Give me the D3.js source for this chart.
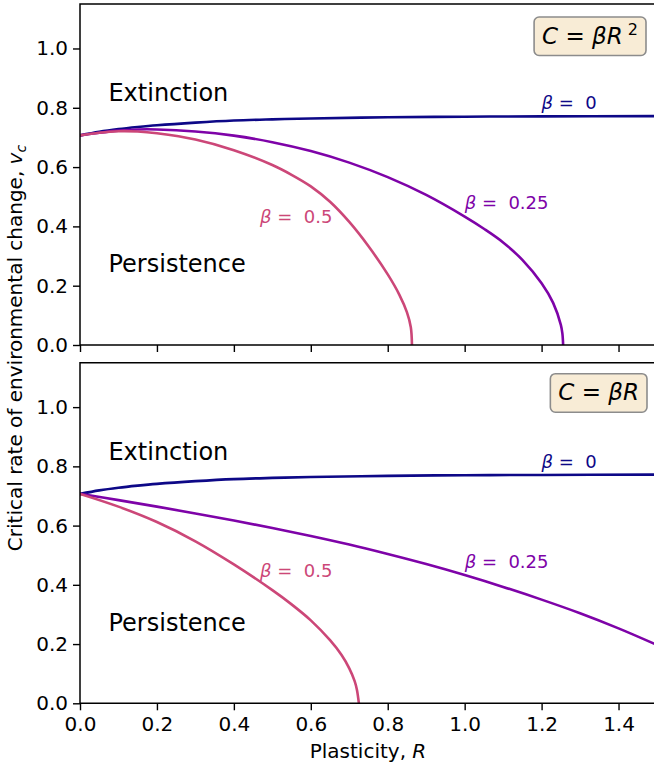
<!DOCTYPE html>
<html>
<head>
<meta charset="utf-8">
<script src="https://cdn.jsdelivr.net/npm/d3@7"></script>
<style>
  body { margin: 0; background: #fff; }
  svg { display: block; font-family: "DejaVu Sans", sans-serif; }
</style>
</head>
<body>
<div id="chart"></div>
<script>
// values
const R_BETA0 = [0, 0.05, 0.1, 0.15, 0.2, 0.3, 0.4, 0.5, 0.6, 0.8, 1.0, 1.2, 1.5];
const V_BETA0 = [0.707, 0.719, 0.728, 0.735, 0.741, 0.750, 0.757, 0.761, 0.764, 0.768, 0.770, 0.771, 0.772];

// C = beta R^2
const R_QUAD_025 = [0, 0.05, 0.1, 0.15, 0.2, 0.3, 0.4, 0.5, 0.6, 0.7, 0.8, 0.9, 1.0, 1.05, 1.1, 1.15, 1.2, 1.23, 1.25, 1.254, 1.256];
const V_QUAD_025 = [0.707, 0.716, 0.723, 0.727, 0.727, 0.720, 0.706, 0.684, 0.654, 0.615, 0.566, 0.506, 0.433, 0.392, 0.346, 0.287, 0.208, 0.142, 0.068, 0.039, 0];
const R_QUAD_05 = [0, 0.05, 0.1, 0.15, 0.2, 0.3, 0.4, 0.5, 0.55, 0.6, 0.65, 0.7, 0.75, 0.8, 0.83, 0.85, 0.86, 0.863];
const V_QUAD_05 = [0.707, 0.716, 0.721, 0.720, 0.714, 0.693, 0.657, 0.607, 0.574, 0.535, 0.483, 0.415, 0.333, 0.238, 0.17, 0.11, 0.06, 0];

// C = beta R
const R_LIN_025 = [0, 0.1, 0.2, 0.3, 0.4, 0.5, 0.6, 0.7, 0.8, 0.9, 1.0, 1.1, 1.2, 1.3, 1.4, 1.5];
const V_LIN_025 = [0.707, 0.686, 0.664, 0.641, 0.617, 0.592, 0.565, 0.536, 0.504, 0.470, 0.433, 0.393, 0.350, 0.304, 0.253, 0.197];
const R_LIN_05 = [0, 0.1, 0.2, 0.3, 0.4, 0.5, 0.55, 0.6, 0.65, 0.68, 0.7, 0.714, 0.72, 0.725];
const V_LIN_05 = [0.707, 0.664, 0.612, 0.547, 0.469, 0.382, 0.334, 0.28, 0.213, 0.163, 0.118, 0.075, 0.045, 0];

const BETAS = ['0', '0.25', '0.5'];
const X_TICKS = [0, 0.2, 0.4, 0.6, 0.8, 1.0, 1.2, 1.4];
const Y_TICKS = [0, 0.2, 0.4, 0.6, 0.8, 1.0];

const COLORS = ['#0d0887', '#7e03a8', '#cc4778'];

const W = 654, H = 768;
const svg = d3.select('#chart').append('svg').attr('width', W).attr('height', H);

const x = d3.scaleLinear().domain([0, 1.5]).range([80, 657]);

const panels = [
  {
    top: 4, bottom: 345, costLabel: 'sq',
    series: [[R_BETA0, V_BETA0], [R_QUAD_025, V_QUAD_025], [R_QUAD_05, V_QUAD_05]],
    labels: [[1.2, 0.797], [1.0, 0.46], [0.468, 0.41]],
    showX: false
  },
  {
    top: 362.7, bottom: 703.3, costLabel: 'lin',
    series: [[R_BETA0, V_BETA0], [R_LIN_025, V_LIN_025], [R_LIN_05, V_LIN_05]],
    labels: [[1.2, 0.793], [1.0, 0.457], [0.468, 0.427]],
    showX: true
  }
];

panels.forEach((p, pi) => {
  const y = d3.scaleLinear().domain([0, 1.15]).range([p.bottom, p.top]);
  const g = svg.append('g');
  const clipId = 'clip' + pi;

  svg.append('clipPath').attr('id', clipId)
    .append('rect')
    .attr('x', x(0)).attr('y', p.top)
    .attr('width', x(1.5) - x(0)).attr('height', p.bottom - p.top);

  // axes
  const xAxis = d3.axisBottom(x).tickValues(X_TICKS).tickSize(7).tickPadding(7)
    .tickFormat(p.showX ? d3.format('.1f') : '');
  const gx = g.append('g').attr('transform', `translate(0,${p.bottom})`).call(xAxis);
  const yAxis = d3.axisLeft(y).tickValues(Y_TICKS).tickSize(7).tickPadding(5).tickFormat(d3.format('.1f'));
  const gy = g.append('g').attr('transform', `translate(${x(0)},0)`).call(yAxis);
  [gx, gy].forEach(a => {
    a.select('.domain').remove();
    a.selectAll('line').attr('stroke', '#000').attr('stroke-width', 1.4);
    a.selectAll('text').attr('fill', '#000').style('font-size', '20px')
      .style('font-family', '"DejaVu Sans", sans-serif');
  });

  // curves
  const line = d3.line()
    .x(d => x(d[0]))
    .y(d => y(d[1]))
    .curve(d3.curveCatmullRom.alpha(0.5));

  g.append('g').attr('clip-path', `url(#${clipId})`)
    .selectAll('path')
    .data(p.series)
    .join('path')
    .attr('d', s => line(s[0].map((r, i) => [r, s[1][i]])))
    .attr('fill', 'none')
    .attr('stroke', (s, i) => COLORS[i])
    .attr('stroke-width', 2.6)
    .attr('stroke-linejoin', 'round');

  // frame
  g.append('path')
    .attr('d', `M${x(1.5)},${p.top}H${x(0)}V${p.bottom}H${x(1.5)}`)
    .attr('fill', 'none').attr('stroke', '#000').attr('stroke-width', 1.5);

  // beta labels
  const lab = g.selectAll('text.beta')
    .data(p.labels)
    .join('text')
    .attr('class', 'beta')
    .attr('x', d => x(d[0]))
    .attr('y', d => y(d[1]))
    .attr('fill', (d, i) => COLORS[i])
    .style('font-size', '18px');
  lab.append('tspan').style('font-style', 'italic').text('β');
  lab.append('tspan').text((d, i) => '\u00a0=\u00a0\u00a0' + BETAS[i]);

  // region labels
  g.append('text').attr('x', x(0.074)).attr('y', y(0.823))
    .style('font-size', '24px').attr('fill', '#000').text('Extinction');
  g.append('text').attr('x', x(0.074)).attr('y', y(0.245))
    .style('font-size', '24px').attr('fill', '#000').text('Persistence');

  // cost box
  const box = g.append('g');
  const rect = box.append('rect');
  const t = box.append('text')
    .attr('x', 0).attr('y', 0)
    .attr('text-anchor', 'end')
    .style('font-size', '23px').attr('fill', '#000');
  t.append('tspan').style('font-style', 'italic').text('C');
  t.append('tspan').text('\u00a0=\u00a0');
  t.append('tspan').style('font-style', 'italic').text('βR');
  if (p.costLabel === 'sq') {
    t.append('tspan').attr('dy', -9).style('font-size', '16px').text('\u00a02');
  }
  const bx = p.costLabel === 'sq' ? 638 : 639;
  const by = p.top + (p.costLabel === 'sq' ? 39.5 : 37.5);
  box.attr('transform', `translate(${bx},${by})`);
  const bb = t.node().getBBox();
  rect.attr('x', bb.x - 8).attr('y', -18 - 8.5)
    .attr('width', bb.width + 16).attr('height', 18 + 8.5 + 12)
    .attr('rx', 5)
    .attr('fill', '#f8ecd6')
    .attr('stroke', '#8c8c8c').attr('stroke-width', 1.6);
});

// axis titles
const xl = svg.append('text')
  .attr('x', 368).attr('y', 758)
  .attr('text-anchor', 'middle')
  .style('font-size', '20px').attr('fill', '#000');
xl.append('tspan').text('Plasticity, ');
xl.append('tspan').style('font-style', 'italic').text('R');

const yl = svg.append('text')
  .attr('transform', 'translate(22,348) rotate(-90)')
  .attr('text-anchor', 'middle')
  .style('font-size', '20px').attr('fill', '#000');
yl.append('tspan').text('Critical rate of environmental change, ');
yl.append('tspan').style('font-style', 'italic').text('v');
yl.append('tspan').attr('dy', 4).style('font-style', 'italic').style('font-size', '14px').text('c');
</script>
</body>
</html>
